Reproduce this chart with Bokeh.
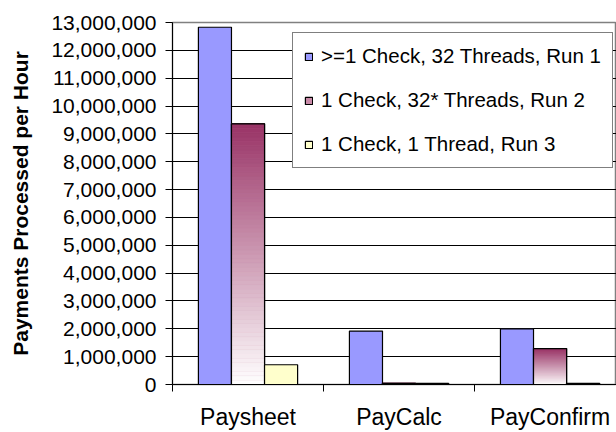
from bokeh.plotting import figure
from bokeh.models import (Range1d, FixedTicker, NumeralTickFormatter,
                          Legend, LegendItem)
from bokeh.embed import file_html
from bokeh.resources import INLINE

categories = ["Paysheet", "PayCalc", "PayConfirm"]
series_names = [">=1 Check, 32 Threads, Run 1",
                "1 Check, 32* Threads, Run 2",
                "1 Check, 1 Thread, Run 3"]
run1 = [12_830_000, 1_920_000, 2_000_000]
run2 = [9_360_000, 40_000, 1_290_000]
run3 = [710_000, 40_000, 40_000]
y_ticks = list(range(0, 13_000_001, 1_000_000))

FONT = "Liberation Sans"
BLUE = "#9999FF"
YELLOW = "#FFFFCC"
PURPLE = (0x99, 0x33, 0x66)

p = figure(width=616, height=432, output_backend="svg", toolbar_location=None,
           x_range=Range1d(0, 2.94), y_range=Range1d(0, 13_000_000),
           min_border_left=172, min_border_right=0, min_border_top=22, min_border_bottom=46)
p.background_fill_color = "white"
p.border_fill_color = "white"
p.outline_line_color = "#808080"
p.outline_line_width = 1.5

bw = 0.219
centers = [i + 0.5 for i in range(len(categories))]
x1 = [c - bw for c in centers]
x2 = centers
x3 = [c + bw for c in centers]

# Series 1 (solid blue)
r1 = p.vbar(x=x1, top=run1, width=bw, bottom=0, fill_color=BLUE,
            line_color="black", line_width=1.2)

# Series 2: base bar (legend swatch colour), covered by a vertical gradient
r2 = p.vbar(x=x2, top=run2, width=bw, bottom=0, fill_color="#C98AA8",
            line_color="black", line_width=1.2)
N = 60
gl, gr, gb, gt, gc = [], [], [], [], []
for xc, v in zip(x2, run2):
    for i in range(N):
        f = (i + 0.5) / N  # 0 bottom, 1 top
        r = int(round(255 + (PURPLE[0] - 255) * f))
        g = int(round(255 + (PURPLE[1] - 255) * f))
        b = int(round(255 + (PURPLE[2] - 255) * f))
        gl.append(xc - bw / 2)
        gr.append(xc + bw / 2)
        gb.append(v * i / N)
        gt.append(v * (i + 1) / N)
        gc.append("#%02x%02x%02x" % (r, g, b))
p.quad(left=gl, right=gr, bottom=gb, top=gt, fill_color=gc, line_color=gc, line_width=0.5)
p.vbar(x=x2, top=run2, width=bw, bottom=0, fill_color=None,
       line_color="black", line_width=1.2)

# Series 3 (light yellow)
r3 = p.vbar(x=x3, top=run3, width=bw, bottom=0, fill_color=YELLOW,
            line_color="black", line_width=1.2)

# Axes
p.xgrid.visible = False
p.ygrid.grid_line_color = "black"
p.ygrid.grid_line_width = 1
p.ygrid.ticker = FixedTicker(ticks=y_ticks)

p.yaxis.ticker = FixedTicker(ticks=y_ticks)
p.yaxis.formatter = NumeralTickFormatter(format="0,0")
p.yaxis.major_label_text_font = FONT
p.yaxis.major_label_text_font_size = "21px"
p.yaxis.major_label_text_color = "black"
p.yaxis.major_tick_in = 0
p.yaxis.major_tick_out = 7
p.yaxis.minor_tick_line_color = None
p.yaxis.major_label_standoff = 9
p.yaxis.axis_line_color = "black"
p.yaxis.axis_label = "Payments Processed per Hour"
p.yaxis.axis_label_text_font = FONT
p.yaxis.axis_label_text_font_size = "21px"
p.yaxis.axis_label_text_font_style = "bold"
p.yaxis.axis_label_text_color = "black"
p.yaxis.axis_label_standoff = 16

p.xaxis.ticker = FixedTicker(ticks=centers, minor_ticks=[0, 1, 2, 3])
p.xaxis.major_label_overrides = {c: name for c, name in zip(centers, categories)}
p.xaxis.major_label_text_font = FONT
p.xaxis.major_label_text_font_size = "23px"
p.xaxis.major_label_text_color = "black"
p.xaxis.major_label_standoff = 12
p.xaxis.major_tick_line_color = None
p.xaxis.major_tick_out = 7
p.xaxis.major_tick_in = 0
p.xaxis.minor_tick_line_color = "black"
p.xaxis.minor_tick_out = 7
p.xaxis.minor_tick_in = 0
p.xaxis.axis_line_color = "black"

legend = Legend(items=[LegendItem(label=series_names[0], renderers=[r1]),
                       LegendItem(label=series_names[1], renderers=[r2]),
                       LegendItem(label=series_names[2], renderers=[r3])],
                location=(120, 216))
legend.label_text_font = FONT
legend.label_text_font_size = "20.5px"
legend.label_text_color = "black"
legend.glyph_width = 9
legend.glyph_height = 9
legend.label_height = 18
legend.spacing = 20
legend.padding = 11
legend.label_standoff = 8
legend.border_line_color = "black"
legend.border_line_width = 1
legend.background_fill_color = "white"
legend.background_fill_alpha = 1
p.add_layout(legend)

open("out.html", "w").write(file_html(p, INLINE))
